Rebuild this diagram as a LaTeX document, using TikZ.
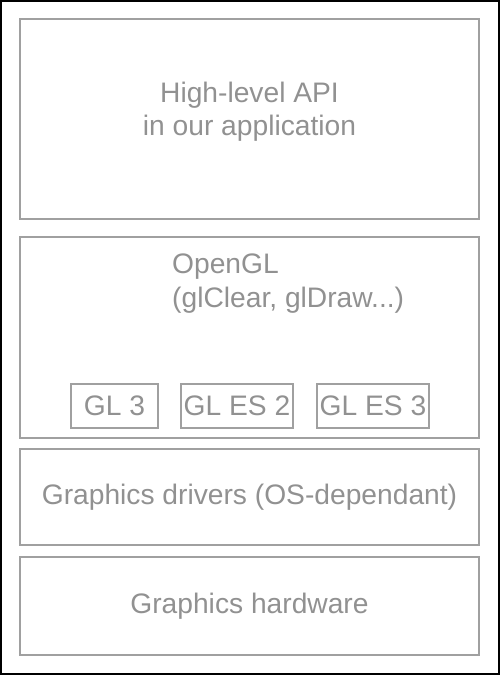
\documentclass[tikz,border=0pt]{standalone}
\usepackage{fontspec}
\setmainfont{Liberation Sans}
\definecolor{layergray}{RGB}{160,160,160}
\definecolor{textgray}{RGB}{145,145,145}

\begin{document}
\begin{tikzpicture}[x=1pt,y=-1pt,
  layer/.style={draw=layergray,line width=1.3pt,minimum width=459pt,inner sep=0pt,text=textgray,font=\fontsize{28.2}{33}\selectfont},
  api/.style={draw=layergray,line width=1.3pt,minimum width=112pt,minimum height=44pt,inner sep=0pt,text=textgray,font=\fontsize{28.2}{33}\selectfont},
  layertext/.style={inner sep=0pt,text=textgray,font=\fontsize{28.2}{33}\selectfont}]
  \useasboundingbox (0,0) rectangle (500,675);
  \draw[line width=2pt] (1,1) rectangle (499,674);
  \node[layer,minimum height=200pt]	(A)	at (249.5,119)	{};
  \node[layertext,align=center]	(At)	at ([yshift=7pt]A.center)	{High-level API\\in our application};
  \node[layer,minimum height=201pt]	(O)	at (249.5,337.5)	{};
  \node[layertext,align=left,anchor=north west]	(Ot)	at (172,254)	{OpenGL\\[1pt](glClear, glDraw...)};
  \node[api,minimum width=87pt]	(G3)	at (114.5,406)	{GL 3};
  \node[api]	(E2)	at (237,406)	{GL ES 2};
  \node[api]	(E3)	at (373,406)	{GL ES 3};
  \node[layer,minimum height=96pt]	(D)	at (249.5,497)	{Graphics drivers (OS-dependant)};
  \node[layer,minimum height=98pt]	(H)	at (249.5,606)	{Graphics hardware};
\end{tikzpicture}
\end{document}
